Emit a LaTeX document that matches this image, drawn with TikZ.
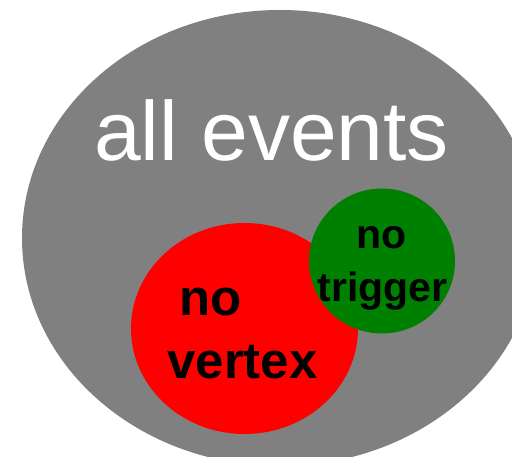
\documentclass[tikz,border=0pt]{standalone}
\usepackage{fontspec}
\setmainfont{Liberation Sans}
\usetikzlibrary{shapes.geometric}
\begin{document}
\begin{tikzpicture}[x=1pt,y=-1pt,
  blob/.style={ellipse, inner sep=0pt, draw=none},
  lbl/.style={inner sep=0pt, anchor=base},
  bigtxt/.style={lbl, text=white, font=\fontsize{84}{84}\selectfont},
  redtxt/.style={lbl, text=black, font=\fontsize{51}{51}\selectfont\bfseries},
  greentxt/.style={lbl, text=black, font=\fontsize{41}{41}\selectfont\bfseries}]
\clip (0,0) rectangle (512,457);
\fill[white] (0,0) rectangle (512,457);
\node[blob, fill={rgb,255:red,128;green,128;blue,128}, minimum width=516pt, minimum height=456pt] (all) at (280,238) {};
\node[blob, fill={rgb,255:red,255;green,0;blue,0}, minimum width=227pt, minimum height=211pt] (vtx) at (244.5,328.5) {};
\node[blob, fill={rgb,255:red,0;green,128;blue,0}, minimum width=146pt, minimum height=145pt] (trg) at (382,261) {};
\node[bigtxt] (t1) at (271.5,161) {all events};
\node[redtxt] (t2) at (210.5,316) {no};
\node[redtxt] (t3) at (242.5,379) {vertex};
\node[greentxt] (t4) at (381.5,249) {no};
\node[greentxt] (t5) at (382.5,302) {trigger};
\end{tikzpicture}
\end{document}
